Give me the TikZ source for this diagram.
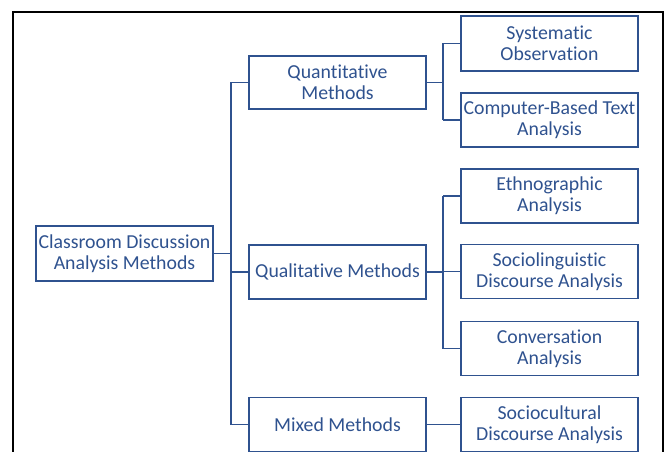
\documentclass[tikz,border=0pt]{standalone}
\usepackage{fontspec}
\setmainfont{Carlito}[Ligatures=NoCommon]
\definecolor{db}{RGB}{47,82,143}
\begin{document}
\begin{tikzpicture}[x=1pt,y=-1pt,
 box/.style={draw=db, line width=1.8pt, text=db, minimum width=177pt, minimum height=54pt, align=center, inner sep=1pt, font=\fontsize{19.8}{21}\selectfont},
 link/.style={draw=db, line width=1.8pt}]
\useasboundingbox (0,0) rectangle (667,452);
\draw[black, line width=2pt] (13,452) -- (13,12) -- (663,12) -- (663,452);
\node[box, minimum height=55pt] (root) at (124.5,253.5) {Classroom Discussion\\Analysis Methods};
\node[box, minimum height=53pt] (quant) at (337.5,82.5) {Quantitative\\Methods};
\node[box] (qual) at (337.5,272) {Qualitative Methods};
\node[box] (mixed) at (337.5,424.5) {Mixed Methods};
\node[box, minimum height=55pt] (sys) at (549.5,43.5) {Systematic\\Observation};
\node[box] (comp) at (549.5,120) {Computer-Based Text\\Analysis};
\node[box] (eth) at (549.5,196) {Ethnographic\\Analysis};
\node[box] (soc) at (549.5,271.5) {Sociolinguistic\\Discourse Analysis};
\node[box] (conv) at (549.5,348.5) {Conversation\\Analysis};
\node[box] (socio) at (549.5,424.5) {Sociocultural\\Discourse Analysis};
\coordinate (t) at (231,0);
\coordinate (q) at (443,0);
\draw[link] (root.east) -- (root.east -| t);
\draw[link] (t |- quant) -- (t |- mixed);
\draw[link] (t |- quant) -- (quant.west);
\draw[link] (t |- qual) -- (qual.west);
\draw[link] (t |- mixed) -- (mixed.west);
\draw[link] (quant.east) -- (quant.east -| q);
\draw[link] (q |- sys) -- (q |- comp);
\draw[link] (q |- sys) -- (sys.west);
\draw[link] (q |- comp) -- (comp.west);
\draw[link] (qual.east) -- (qual.east -| q);
\draw[link] (q |- eth) -- (q |- conv);
\draw[link] (q |- eth) -- (eth.west);
\draw[link] (q |- soc) -- (soc.west);
\draw[link] (q |- conv) -- (conv.west);
\draw[link] (mixed.east) -- (socio.west);
\end{tikzpicture}
\end{document}
